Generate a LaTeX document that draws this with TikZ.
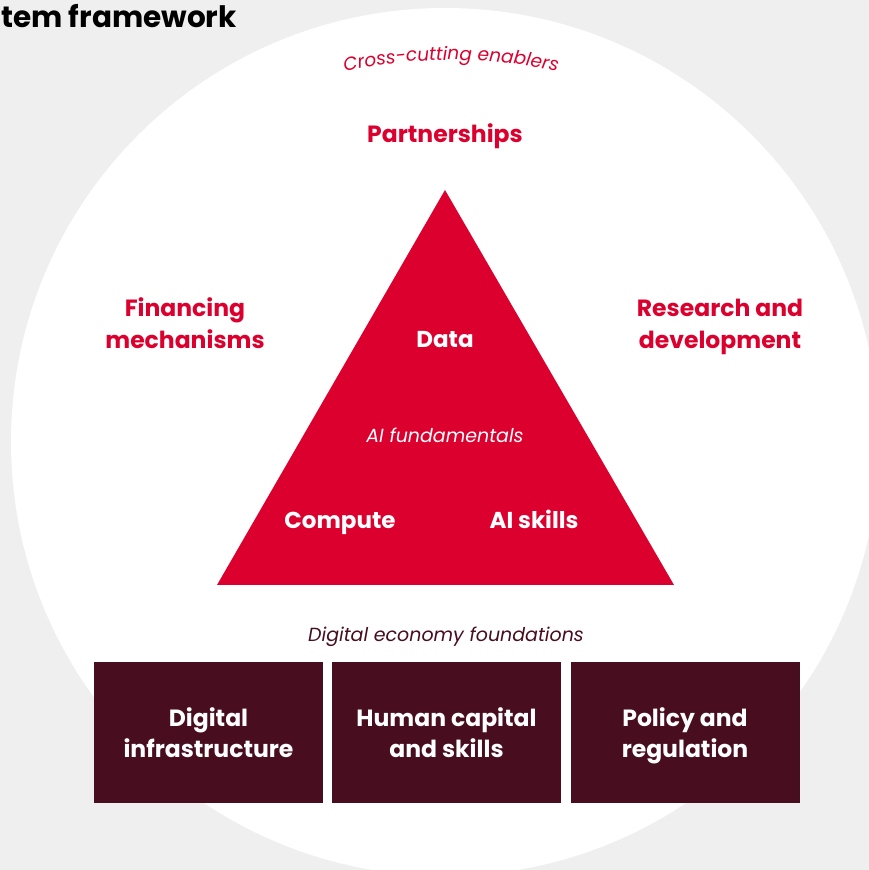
\documentclass[tikz,border=0pt]{standalone}
\usepackage{fontspec}
\setmainfont{Poppins}
\usepackage{xcolor}
\usepackage{tikz}
\usetikzlibrary{decorations.text}

\definecolor{crimson}{HTML}{DC002E}
\definecolor{wine}{HTML}{480D1E}
\definecolor{paper}{HTML}{EFEFEF}

\begin{document}
\begin{tikzpicture}[x=1pt,y=1pt,
    enabler/.style={text=crimson,align=center,font=\fontsize{23.5}{32}\selectfont\bfseries},
    core/.style={text=white,anchor=base,font=\fontsize{23}{26}\selectfont\bfseries},
    pillar/.style={fill=wine,text=white,align=center,inner sep=0pt,text depth=0pt,
      minimum width=229pt,minimum height=141pt,font=\fontsize{23.5}{31}\selectfont\bfseries},
    caption/.style={anchor=base,font=\fontsize{19}{22}\selectfont\itshape}]
    \useasboundingbox[fill=paper] (0,0) rectangle (869,870);
    \fill[white] (445,428) circle (434);
    \node[anchor=base west,inner sep=0pt,font=\fontsize{29.5}{34}\selectfont\bfseries] (title) at (1,842) {tem framework};
    % enablers round the circle
    \path[decorate,decoration={text along path,text align=center,
      text={|\fontsize{18.5}{20}\selectfont\itshape\color{crimson}|Cross-cutting enablers}}]
      (451,300) ++(103:510) arc (103:77:510);
    \node[enabler,anchor=base] (partner) at (445,727) {Partnerships};
    \node[enabler] (finance) at (185,547) {Financing\\mechanisms};
    \node[enabler] (research) at (720,543) {Research and\\development};
    % the triangle of fundamentals
    \coordinate (top) at (445,680);
    \coordinate (left) at (217,285);
    \coordinate (right) at (674,285);
    \fill[crimson] (top) -- (left) -- (right) -- cycle;
    \node[core] (data) at (445,522) {Data};
    \node[caption,text=white] (fund) at (445,427) {AI fundamentals};
    \node[core] (compute) at (340,341) {Compute};
    \node[core] (skills) at (534,341) {AI skills};
    % foundations
    \node[caption,text=wine] (found) at (446,228) {Digital economy foundations};
    \node[pillar] (infra) at (208.5,137.5) {Digital\\infrastructure};
    \node[pillar] (human) at (446.5,137.5) {Human capital\\and skills};
    \node[pillar] (policy) at (685,137.5) {Policy and\\regulation};
  \end{tikzpicture}
\end{document}
